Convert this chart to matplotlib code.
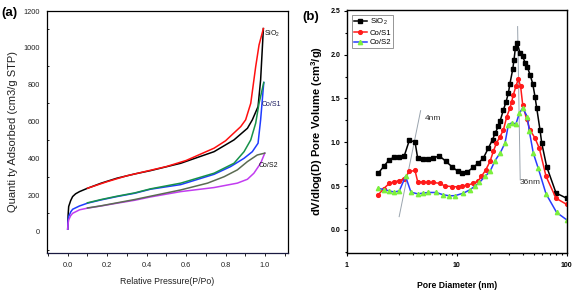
import matplotlib
matplotlib.use("Agg")
import matplotlib.pyplot as plt
from matplotlib.ticker import MultipleLocator, LogLocator, NullFormatter

plt.rcParams["font.family"] = ["Liberation Sans", "DejaVu Sans"]
plt.rcParams["mathtext.fontset"] = "custom"
plt.rcParams["mathtext.rm"] = "Liberation Sans"
plt.rcParams["mathtext.bf"] = "Liberation Sans:bold"

# ---- panel (a): N2 isotherms ----
sio2_ads_p = [0.0, 0.002, 0.005, 0.015, 0.025, 0.04, 0.06, 0.1, 0.17, 0.25, 0.34, 0.42,
              0.573, 0.742, 0.843, 0.911, 0.936, 0.965, 0.978, 0.992]
sio2_ads_v = [15, 90, 138, 170, 192, 207, 219, 237, 265, 292, 315, 333,
              373, 436, 500, 563, 609, 681, 826, 1105]
sio2_des_p = [0.992, 0.97, 0.953, 0.928, 0.902, 0.877, 0.8, 0.742, 0.6, 0.5, 0.4, 0.3, 0.2, 0.1]
sio2_des_v = [1105, 1016, 898, 699, 609, 572, 495, 455, 388, 355, 330, 305, 273, 237]

cos1_ads_p = [0.0, 0.002, 0.005, 0.015, 0.025, 0.06, 0.1, 0.17, 0.25, 0.34, 0.42, 0.573,
              0.742, 0.826, 0.894, 0.936, 0.965, 0.978, 0.994]
cos1_ads_v = [15, 60, 83, 108, 123, 141, 156, 174, 192, 210, 232, 257,
              313, 355, 400, 436, 482, 609, 812]
cos1_des_p = [0.994, 0.97, 0.953, 0.928, 0.894, 0.843, 0.742, 0.573, 0.42, 0.34, 0.25, 0.17, 0.1]
cos1_des_v = [812, 699, 591, 500, 436, 373, 319, 265, 234, 212, 194, 176, 158]

cos2_ads_p = [0.0, 0.002, 0.005, 0.015, 0.025, 0.06, 0.1, 0.17, 0.25, 0.34, 0.42, 0.573,
              0.742, 0.86, 0.911, 0.944, 0.978, 0.999]
cos2_ads_v = [15, 45, 65, 88, 101, 120, 129, 141, 156, 172, 190, 219,
              241, 265, 286, 319, 373, 428]
cos2_des_p = [0.999, 0.961, 0.911, 0.86, 0.793, 0.709, 0.573, 0.42, 0.34, 0.25, 0.17, 0.1]
cos2_des_v = [428, 418, 382, 337, 300, 265, 228, 194, 176, 158, 142, 130]

# ---- panel (b): pore size distribution ----
sio2_d = [1.94, 2.17, 2.44, 2.71, 3.01, 3.34, 3.71, 4.18, 4.42, 4.91, 5.45, 6.13, 6.95,
          8.0, 9.06, 10.2, 11.1, 12.5, 14.2, 15.7, 17.5, 19.4, 21.2, 22.3, 23.9, 24.8,
          26.6, 28.1, 29.5, 30.5, 32.3, 33.2, 34.1, 35.6, 37.6, 39.8, 42.1, 43.9, 46.4,
          49.1, 51.5, 53.4, 57.2, 59.3, 65.8, 80.0, 100.0]
sio2_v = [0.647, 0.723, 0.80, 0.83, 0.83, 0.845, 1.02, 1.005, 0.818, 0.807, 0.807, 0.818,
          0.845, 0.78, 0.72, 0.67, 0.654, 0.66, 0.716, 0.76, 0.82, 0.932, 1.03, 1.10, 1.18,
          1.24, 1.37, 1.46, 1.56, 1.67, 1.83, 1.94, 2.07, 2.13, 2.02, 1.98, 1.90, 1.86,
          1.77, 1.67, 1.52, 1.39, 1.14, 0.99, 0.72, 0.42, 0.36]

cos1_d = [1.94, 2.17, 2.44, 2.71, 3.01, 3.34, 3.71, 4.18, 4.42, 4.91, 5.45, 6.13, 7.05,
          7.8, 9.0, 10.2, 11.1, 12.5, 14.2, 15.7, 16.8, 18.3, 20.1, 21.5, 23.0, 24.8,
          26.6, 28.5, 30.5, 31.6, 32.7, 34.6, 36.3, 38.1, 39.8, 43.3, 46.4, 51.5, 56.4,
          64.9, 80.0, 100.0]
cos1_v = [0.40, 0.47, 0.53, 0.55, 0.56, 0.585, 0.666, 0.677, 0.55, 0.545, 0.54, 0.54, 0.53,
          0.50, 0.494, 0.49, 0.50, 0.51, 0.53, 0.56, 0.61, 0.68, 0.78, 0.894, 0.99, 1.065,
          1.14, 1.29, 1.39, 1.46, 1.54, 1.64, 1.72, 1.64, 1.43, 1.26, 1.14, 1.047, 0.93,
          0.61, 0.36, 0.29]

cos2_d = [1.94, 2.2, 2.44, 2.71, 3.01, 3.43, 3.84, 4.43, 4.9, 5.5, 6.5, 7.55, 8.57, 9.67,
          11.5, 13.2, 14.7, 16.1, 18.1, 20.1, 22.3, 24.8, 27.5, 29.5, 31.6, 34.6, 37.1,
          39.8, 43.9, 45.7, 49.7, 55.2, 64.9, 81.0, 100.0]
cos2_v = [0.475, 0.457, 0.445, 0.43, 0.445, 0.61, 0.43, 0.41, 0.418, 0.426, 0.426, 0.40,
          0.388, 0.39, 0.418, 0.457, 0.50, 0.54, 0.61, 0.666, 0.79, 0.875, 0.99, 1.2, 1.22,
          1.21, 1.33, 1.39, 1.29, 1.13, 0.875, 0.70, 0.41, 0.198, 0.114]

fig = plt.figure(figsize=(5.73, 2.92), dpi=100)

# ---------------- (a) ----------------
axa = fig.add_axes([0.082, 0.134, 0.420, 0.828])
lw = 1.1
axa.plot(sio2_ads_p, sio2_ads_v, color="black", lw=lw)
axa.plot(sio2_des_p, sio2_des_v, color="#ff1010", lw=lw)
axa.plot(cos1_ads_p, cos1_ads_v, color="#1f3cff", lw=lw)
axa.plot(cos1_des_p, cos1_des_v, color="#17924a", lw=lw)
axa.plot(cos2_ads_p, cos2_ads_v, color="#c23cf0", lw=lw)
axa.plot(cos2_des_p, cos2_des_v, color="#5b6b52", lw=lw)

axa.set_xlim(-0.105, 1.115)
axa.set_ylim(-114, 1200)
axa.xaxis.set_minor_locator(MultipleLocator(0.1))
axa.yaxis.set_minor_locator(MultipleLocator(100))
axa.set_xticks([0.0, 0.2, 0.4, 0.6, 0.8, 1.0])
axa.set_xticklabels(["0.0", "0.2", "0.4", "0.6", "0.8", "1.0"])
axa.set_yticks([0, 200, 400, 600, 800, 1000, 1200])
axa.set_yticklabels(["0", "200", "400", "600", "800", "1000", "1200"])
axa.tick_params(axis="both", which="both", direction="out", labelsize=5.3,
                width=0.7, pad=2, colors="#222222")
axa.tick_params(axis="x", which="both", length=2.5, pad=4)
axa.tick_params(axis="y", which="major", length=0, pad=5)
axa.tick_params(axis="y", which="minor", length=1.5, direction="in")
for s in axa.spines.values():
    s.set_linewidth(0.9)
axa.spines["bottom"].set_color("#1a1a40")
axa.set_xlabel("Relative Pressure(P/Po)", fontsize=6.3, labelpad=6, color="#222222")
axa.set_ylabel("Quanti ty Adsorbed (cm3/g STP)", fontsize=8.0, labelpad=4, color="#222222")

axa.text(0.995, 1075, "SiO$_2$", fontsize=5.0, va="center", ha="left", color="#111111")
axa.text(0.985, 690, "Co/S1", fontsize=5.0, va="center", ha="left", color="#1a1a60")
axa.text(0.970, 360, "Co/S2", fontsize=5.0, va="center", ha="left", color="#111111")
fig.text(0.002, 0.975, "(a)", fontsize=9.5, fontweight="bold", va="top", ha="left")

# ---------------- (b) ----------------
axb = fig.add_axes([0.605, 0.135, 0.384, 0.831])
ms = 2.7
axb.plot(sio2_d, sio2_v, color="black", lw=1.1, marker="s", ms=ms, label="SiO$_2$")
axb.plot(cos1_d, cos1_v, color="#ff1a1a", lw=1.1, marker="o", ms=ms, label="Co/S1")
axb.plot(cos2_d, cos2_v, color="#2a3cff", lw=1.1, marker="^", ms=ms + 0.4,
         mfc="#7cf03c", mec="#7cf03c", label="Co/S2")

axb.plot([3.0, 4.7], [0.15, 1.36], color="#9aa4ae", lw=0.7, zorder=1)
axb.plot([35.8, 37.8], [2.32, 0.57], color="#9aa4ae", lw=0.7, zorder=1)
axb.text(5.1, 1.275, "4nm", fontsize=6, va="center", ha="left", color="#333333")
axb.text(37.3, 0.535, "36nm", fontsize=6, va="center", ha="left", color="#333333")

axb.set_xscale("log")
axb.set_xlim(1, 100)
axb.set_ylim(-0.26, 2.51)
axb.xaxis.set_minor_locator(LogLocator(base=10, subs=range(2, 10)))
axb.xaxis.set_minor_formatter(NullFormatter())
axb.set_xticks([1, 10, 100])
axb.set_xticklabels(["1", "10", "100"])
axb.yaxis.set_minor_locator(MultipleLocator(0.25))
axb.set_yticks([0.0, 0.5, 1.0, 1.5, 2.0, 2.5])
axb.set_yticklabels(["0.0", "0.5", "1.0", "1.5", "2.0", "2.5"])
axb.tick_params(axis="both", which="both", direction="out", labelsize=5.0, width=0.8)
axb.tick_params(axis="both", which="major", length=2.5, pad=2)
axb.tick_params(axis="both", which="minor", length=1.5)
axb.tick_params(axis="x", which="major", pad=4)
for lab in axb.get_xticklabels() + axb.get_yticklabels():
    lab.set_fontweight("bold")
for s in axb.spines.values():
    s.set_linewidth(1.0)
axb.set_xlabel("Pore Diameter (nm)", fontsize=6.2, fontweight="bold", labelpad=9)
axb.set_ylabel(r"dV/dlog(D) Pore Volume (cm$\mathbf{^3}$/g)", fontsize=8.0,
               fontweight="bold", labelpad=4)

leg = axb.legend(loc="upper left", bbox_to_anchor=(0.023, 0.979), fontsize=5.6,
                 frameon=True, fancybox=False, edgecolor="#666666", handlelength=1.7,
                 handletextpad=0.35, borderpad=0.25, labelspacing=0.25, borderaxespad=0)
leg.get_frame().set_linewidth(0.6)
fig.text(0.527, 0.962, "(b)", fontsize=9.5, fontweight="bold", va="top", ha="left")

fig.savefig("out.png", dpi=100)
